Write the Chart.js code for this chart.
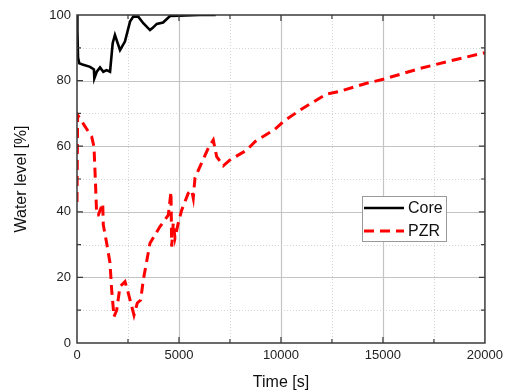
<!DOCTYPE html>
<html>
<head>
<meta charset="utf-8">
<script src="https://cdn.jsdelivr.net/npm/chart.js@4/dist/chart.umd.min.js"></script>
<style>
html,body{margin:0;padding:0;background:#fff;}
#wrap{width:508px;height:392px;position:relative;}
</style>
</head>
<body>
<div id="wrap"><canvas id="c" width="508" height="392"></canvas></div>
<script>
const coreTime  = [0, 20, 50, 110, 310, 640, 830, 850, 970, 1130, 1290, 1450, 1620, 1750, 1860, 2110, 2350, 2600, 2760, 3000, 3250, 3580, 3700, 3910, 4220, 4560, 5000, 6000, 6800];
const coreLevel = [100, 95, 87, 85.3, 84.8, 84.2, 83.4, 80.7, 82.7, 84, 82.7, 83.2, 82.7, 91.4, 93.9, 89.3, 91.9, 98, 99.5, 99.5, 97.5, 95.4, 96, 97.3, 97.7, 99.7, 99.8, 100, 100];

const pzrTime  = [0, 30, 720, 833, 900, 966, 1045, 1260, 1290, 1456, 1618, 1700, 1814, 1946, 2108, 2353, 2515, 2794, 2956, 3122, 3250, 3578, 4069, 4475, 4608, 4642, 4720, 4804, 4966, 5132, 5456, 5622, 5700, 5784, 6029, 6436, 6682, 6848, 7172, 7500, 8319, 8725, 9706, 10114, 10931, 11750, 12240, 12810, 14200, 15015, 15830, 16814, 18284, 20000];
const pzrLevel = [43, 69.5, 62.9, 59.8, 49.7, 39, 39, 42.6, 36, 30.4, 24.4, 16.2, 8, 10, 17.2, 18.7, 15.2, 8.5, 12.2, 13.1, 19.2, 30.4, 35.5, 39, 46.1, 29.4, 36.6, 32, 36.6, 40.5, 45.7, 46.6, 44.2, 50.3, 53.8, 59.4, 61.9, 56.8, 54, 55.8, 58.8, 61.4, 65.2, 67.5, 71, 74.1, 75.9, 76.6, 79.2, 80.4, 81.9, 83.7, 86, 88.5];

const seriesNames = ['Core', 'PZR'];
const xTitle = 'Time [s]';
const yTitle = 'Water level [%]';
const xMax = 20000, xMajor = 5000, xMinor = 2500;
const yMax = 100, yMajor = 20, yMinor = 10;

const FONT = '"Liberation Sans", Arial, sans-serif';
const pts = (xs, ys) => xs.map((x, i) => ({x: x, y: ys[i]}));

const framePlugin = {
  id: 'frameGrid',
  beforeDatasetsDraw(chart) {
    const {ctx, chartArea: a, scales: {x, y}} = chart;
    ctx.save();
    ctx.strokeStyle = '#d4d4d4';
    ctx.lineWidth = 1;
    ctx.setLineDash([1, 2]);
    for (let v = xMinor; v < xMax; v += xMajor) {
      const px = Math.round(x.getPixelForValue(v)) + 0.5;
      ctx.beginPath(); ctx.moveTo(px, a.top); ctx.lineTo(px, a.bottom); ctx.stroke();
    }
    for (let v = yMinor; v < yMax; v += yMajor) {
      const py = Math.round(y.getPixelForValue(v)) + 0.5;
      ctx.beginPath(); ctx.moveTo(a.left, py); ctx.lineTo(a.right, py); ctx.stroke();
    }
    ctx.setLineDash([]);
    ctx.strokeStyle = '#c4c4c4';
    ctx.lineWidth = 1.2;
    for (let v = xMajor; v < xMax; v += xMajor) {
      const px = Math.round(x.getPixelForValue(v)) + 0.5;
      ctx.beginPath(); ctx.moveTo(px, a.top); ctx.lineTo(px, a.bottom); ctx.stroke();
    }
    for (let v = yMajor; v < yMax; v += yMajor) {
      const py = Math.round(y.getPixelForValue(v)) + 0.5;
      ctx.beginPath(); ctx.moveTo(a.left, py); ctx.lineTo(a.right, py); ctx.stroke();
    }
    ctx.restore();
  },
  afterDatasetsDraw(chart) {
    const {ctx, chartArea: a, scales: {x, y}} = chart;
    ctx.save();
    ctx.setLineDash([]);
    ctx.strokeStyle = '#3a3a3a';
    ctx.lineWidth = 1.5;
    ctx.strokeRect(a.left, a.top, a.right - a.left, a.bottom - a.top);
    ctx.lineWidth = 1.2;
    for (let v = xMinor; v < xMax; v += xMinor) {
      const px = x.getPixelForValue(v);
      const len = (v % xMajor === 0) ? 6 : 4;
      ctx.beginPath();
      ctx.moveTo(px, a.bottom); ctx.lineTo(px, a.bottom - len);
      ctx.moveTo(px, a.top); ctx.lineTo(px, a.top + len);
      ctx.stroke();
    }
    for (let v = yMinor; v < yMax; v += yMinor) {
      const py = y.getPixelForValue(v);
      const len = (v % yMajor === 0) ? 6 : 4;
      ctx.beginPath();
      ctx.moveTo(a.left, py); ctx.lineTo(a.left + len, py);
      ctx.moveTo(a.right, py); ctx.lineTo(a.right - len, py);
      ctx.stroke();
    }
    const ds = chart.data.datasets;
    const bx = 362, by = 196, bw = 84, bh = 45;
    ctx.fillStyle = '#ffffff';
    ctx.fillRect(bx, by, bw, bh);
    ctx.strokeStyle = '#9a9a9a';
    ctx.lineWidth = 1;
    ctx.strokeRect(bx + 0.5, by + 0.5, bw, bh);
    ctx.font = '16px ' + FONT;
    ctx.textBaseline = 'middle';
    ctx.textAlign = 'left';
    ds.forEach((d, i) => {
      const ly = by + 12 + i * 23;
      ctx.strokeStyle = d.borderColor;
      ctx.lineWidth = d.borderWidth;
      ctx.setLineDash(d.borderDash || []);
      ctx.beginPath(); ctx.moveTo(bx + 2, ly); ctx.lineTo(bx + 42, ly); ctx.stroke();
      ctx.setLineDash([]);
      ctx.fillStyle = '#111';
      ctx.fillText(d.label, bx + 46, ly + 1);
    });
    ctx.restore();
  }
};

new Chart(document.getElementById('c'), {
  type: 'line',
  data: {
    datasets: [
      { label: seriesNames[0], data: pts(coreTime, coreLevel), borderColor: '#000000', borderWidth: 2.6, pointRadius: 0, tension: 0, fill: false },
      { label: seriesNames[1], data: pts(pzrTime, pzrLevel), borderColor: '#ff0000', borderWidth: 3, borderDash: [10, 6], pointRadius: 0, tension: 0, fill: false }
    ]
  },
  options: {
    responsive: false,
    animation: false,
    devicePixelRatio: 1,
    layout: { padding: { left: 0, right: 23, top: 15, bottom: 0 } },
    plugins: { legend: { display: false }, tooltip: { enabled: false } },
    scales: {
      x: {
        type: 'linear', min: 0, max: xMax,
        grid: { display: false, drawTicks: false },
        border: { display: false },
        ticks: { stepSize: xMajor, padding: 5, color: '#222', font: { family: FONT, size: 13 }, maxRotation: 0, autoSkip: false, callback: v => String(v) },
        title: { display: true, text: xTitle, color: '#111', font: { family: FONT, size: 16 }, padding: { top: 0, bottom: 0 } },
        afterFit: s => { s.height = 49; }
      },
      y: {
        type: 'linear', min: 0, max: yMax,
        grid: { display: false, drawTicks: false },
        border: { display: false },
        ticks: { stepSize: yMajor, padding: 6, color: '#222', font: { family: FONT, size: 13 }, callback: v => String(v) },
        title: { display: true, text: yTitle, color: '#111', font: { family: FONT, size: 16 }, padding: { top: 12, bottom: 0 } },
        afterFit: s => { s.width = 77; }
      }
    }
  },
  plugins: [framePlugin]
});
</script>
</body>
</html>
